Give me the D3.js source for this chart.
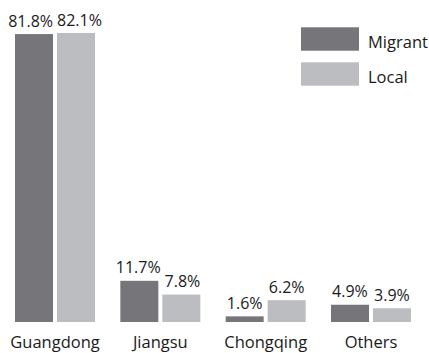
<!DOCTYPE html>
<html>
<head>
<meta charset="utf-8">
<script src="https://cdn.jsdelivr.net/npm/d3@7"></script>
<style>
  body { margin: 0; background: #fff; }
  text { font-family: "Open Sans", sans-serif; fill: #1a1a1a; }
</style>
</head>
<body>
<div id="chart"></div>
<script>
// data
const provinces = ["Guangdong", "Jiangsu", "Chongqing", "Others"];
const seriesNames = ["Migrant", "Local"];
const migrant = [81.8, 11.7, 1.6, 4.9];
const local = [82.1, 7.8, 6.2, 3.9];
const colors = ["#76767a", "#bcbdc0"];

const width = 429, height = 353;
const baseY = 322;

const svg = d3.select("#chart").append("svg")
    .attr("width", width)
    .attr("height", height);

// one row per province with both series
const rows = provinces.map((p, i) => ({ name: p, values: [migrant[i], local[i]] }));

const x0 = d3.scaleBand()
    .domain(provinces)
    .range([15, 411])
    .paddingInner(0.2405)
    .paddingOuter(0);

const x1 = d3.scaleBand()
    .domain(seriesNames)
    .range([0, x0.bandwidth()])
    .paddingInner(0.095);

const y = d3.scaleLinear()
    .domain([0, 100])
    .range([baseY, baseY - 352]);

const groups = svg.selectAll("g.group")
    .data(rows)
    .enter()
    .append("g")
    .attr("class", "group")
    .attr("transform", d => `translate(${x0(d.name)},0)`);

const bars = groups.selectAll("rect")
    .data(d => d.values.map((v, j) => ({ key: seriesNames[j], value: v, idx: j })))
    .enter();

bars.append("rect")
    .attr("x", d => x1(d.key))
    .attr("y", d => y(d.value))
    .attr("width", x1.bandwidth())
    .attr("height", d => baseY - y(d.value))
    .attr("fill", d => colors[d.idx]);

bars.append("text")
    .attr("class", "val")
    .attr("x", d => x1(d.key) + x1.bandwidth() / 2)
    .attr("y", d => y(d.value) - 7.5)
    .attr("text-anchor", "middle")
    .attr("font-size", "16px")
    .text(d => d.value.toFixed(1) + "%");

// push apart value labels that would touch (tall pair in Guangdong)
groups.each(function() {
    const labels = d3.select(this).selectAll("text.val").nodes();
    const a = labels[0], b = labels[1];
    const ax = +a.getAttribute("x"), bx = +b.getAttribute("x");
    const need = (a.getComputedTextLength() + b.getComputedTextLength()) / 2 + 4;
    const ya = +a.getAttribute("y"), yb = +b.getAttribute("y");
    if (Math.abs(ya - yb) < 14 && bx - ax < need) {
        const shift = (need - (bx - ax)) / 2;
        a.setAttribute("x", ax - shift);
        b.setAttribute("x", bx + shift);
    }
});

// category labels
svg.selectAll("text.cat")
    .data(provinces)
    .enter()
    .append("text")
    .attr("class", "cat")
    .attr("x", d => x0(d) + x0.bandwidth() / 2)
    .attr("y", 348)
    .attr("text-anchor", "middle")
    .attr("font-size", "16.5px")
    .text(d => d);

// legend
const legend = svg.selectAll("g.legend")
    .data(seriesNames)
    .enter()
    .append("g")
    .attr("class", "legend")
    .attr("transform", (d, i) => `translate(301,${27.3 + i * 35})`);

legend.append("rect")
    .attr("width", 58)
    .attr("height", 23.4)
    .attr("fill", (d, i) => colors[i]);

legend.append("text")
    .attr("x", 67)
    .attr("y", 20.6)
    .attr("font-size", "16.5px")
    .text(d => d);
</script>
</body>
</html>
